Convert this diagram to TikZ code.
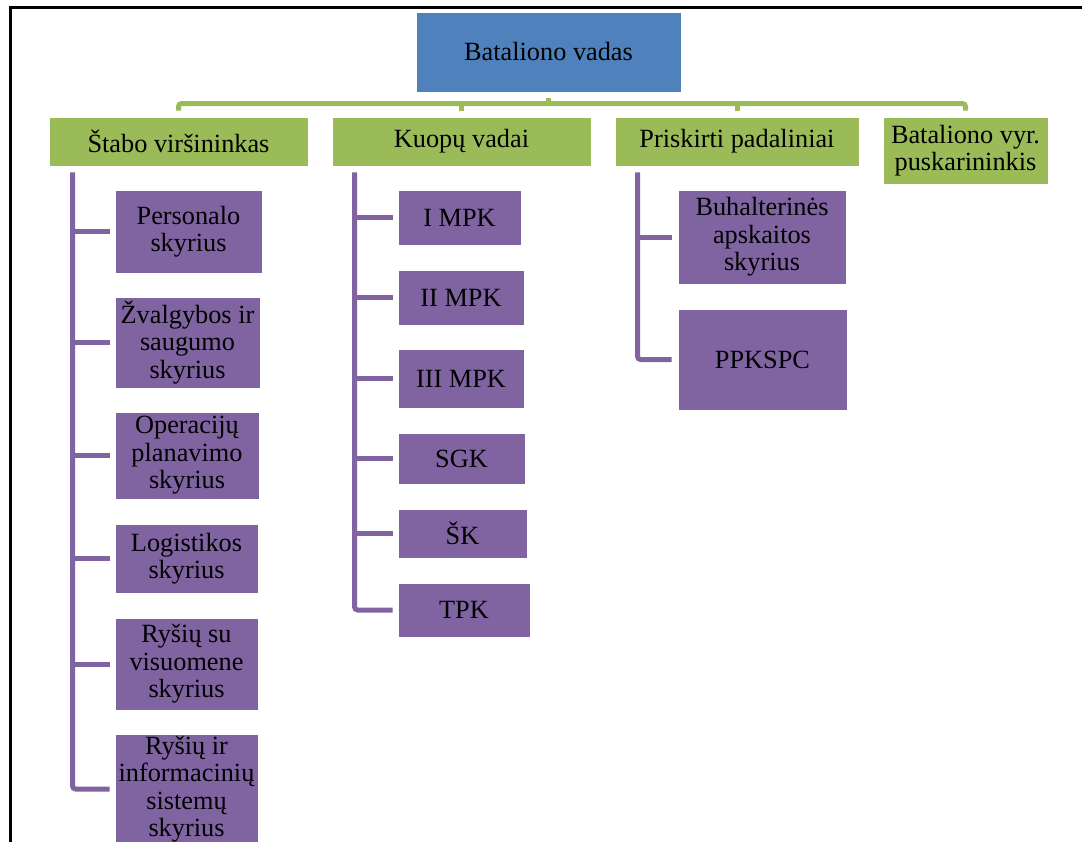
\documentclass[tikz,border=0pt]{standalone}
\usepackage{fontspec}
\setmainfont{Liberation Serif}
\definecolor{boxblue}{HTML}{4F81BD}
\definecolor{boxgreen}{HTML}{9BBB59}
\definecolor{boxpurple}{HTML}{8064A2}
\tikzset{
  orgbox/.style={inner sep=0pt, align=center, draw=white, line width=0.8pt,
    font=\fontsize{26.3}{27.5}\selectfont, text=black},
  headbox/.style={orgbox, fill=boxblue},
  leadbox/.style={orgbox, fill=boxgreen},
  unitbox/.style={orgbox, fill=boxpurple},
  gline/.style={draw=boxgreen, line width=5pt, rounded corners=3pt},
  pline/.style={draw=boxpurple, line width=5pt, rounded corners=3pt},
}
% place a box by its corners (left, top, right, bottom), in pixel units
\newcommand{\orgnode}[7]{%
  \node[#1, minimum width={#5-#3}, minimum height={#6-#4}] (#2) at ({(#3+#5)/2},{(#4+#6)/2}) {#7};}
\begin{document}
\begin{tikzpicture}[x=1pt, y=-1pt]
\useasboundingbox (0,0) rectangle (1082,841);
\begin{scope}
\clip (0,0) rectangle (1082,841);
\fill[white] (0,0) rectangle (1082,841);

% page frame
\draw[black, line width=2.5pt] (10.5,850) -- (10.5,7.5) -- (1090,7.5);

% top level
\orgnode{headbox}{top}{416}{12}{681}{92}{Bataliono vadas}

% second level
\orgnode{leadbox}{stabo}{49}{117}{308}{166}{Štabo viršininkas}
\orgnode{leadbox}{kuopu}{332}{117}{591}{166}{Kuopų vadai}
\orgnode{leadbox}{prisk}{615}{117}{859}{166}{Priskirti padaliniai}
\orgnode{leadbox}{vyr}{883}{117}{1048}{184}{Bataliono vyr.\\puskarininkis}

% staff sections
\orgnode{unitbox}{s1}{115}{190}{262}{273}{Personalo\\skyrius}
\orgnode{unitbox}{s2}{115}{297}{260}{388}{Žvalgybos ir\\saugumo\\skyrius}
\orgnode{unitbox}{s3}{115}{412}{259}{499}{Operacijų\\planavimo\\skyrius}
\orgnode{unitbox}{s4}{115}{524}{258}{593}{Logistikos\\skyrius}
\orgnode{unitbox}{s5}{115}{618}{258}{710}{Ryšių su\\visuomene\\skyrius}
\orgnode{unitbox}{s6}{115}{734}{258}{844}{Ryšių ir\\informacinių\\sistemų\\skyrius}

% companies
\orgnode{unitbox}{k1}{398}{190}{521}{245}{I MPK}
\orgnode{unitbox}{k2}{398}{270}{524}{325}{II MPK}
\orgnode{unitbox}{k3}{398}{349}{524}{408}{III MPK}
\orgnode{unitbox}{k4}{398}{433}{525}{484}{SGK}
\orgnode{unitbox}{k5}{398}{509}{527}{558}{ŠK}
\orgnode{unitbox}{k6}{398}{583}{530}{637}{TPK}

% attached units
\orgnode{unitbox}{p1}{678}{190}{846}{284}{Buhalterinės\\apskaitos\\skyrius}
\orgnode{unitbox}{p2}{678}{309}{847}{410}{PPKSPC}

% bus from the commander to the second level
\draw[gline] ([yshift=-6pt]top.south) -- ([yshift=-12pt]top.south);
\draw[gline] ([yshift=6pt]stabo.north) |- ([yshift=13pt]vyr.north) -- ([yshift=6pt]vyr.north);
\draw[gline] ([yshift=6pt]kuopu.north) -- ([yshift=13pt]kuopu.north);
\draw[gline] ([yshift=6pt]prisk.north) -- ([yshift=13pt]prisk.north);

% staff branch
\coordinate (sv) at ([xshift=24pt,yshift=-6pt]stabo.south west);
\draw[pline] (sv) |- ([xshift=-5pt]s6.west);
\foreach \n in {s1,s2,s3,s4,s5}
  \draw[pline] (sv |- \n.west) -- ([xshift=-5pt]\n.west);

% companies branch
\coordinate (kv) at ([xshift=23pt,yshift=-6pt]kuopu.south west);
\draw[pline] (kv) |- ([xshift=-5pt]k6.west);
\foreach \n in {k1,k2,k3,k4,k5}
  \draw[pline] (kv |- \n.west) -- ([xshift=-5pt]\n.west);

% attached units branch
\coordinate (pv) at ([xshift=23pt,yshift=-6pt]prisk.south west);
\draw[pline] (pv) |- ([xshift=-6pt]p2.west);
\draw[pline] (pv |- p1.west) -- ([xshift=-6pt]p1.west);
\end{scope}
\end{tikzpicture}
\end{document}
